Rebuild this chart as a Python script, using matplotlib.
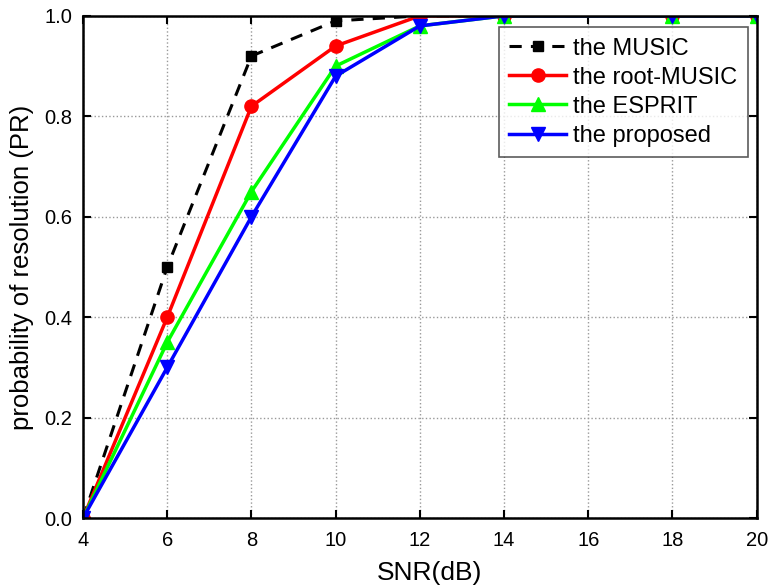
import matplotlib
matplotlib.use("Agg")
import matplotlib.pyplot as plt

plt.rcParams['font.family'] = ['Liberation Sans', 'DejaVu Sans']

snr = [4, 6, 8, 10, 12, 14, 18, 20]
music = [0.0, 0.50, 0.92, 0.99, 1.0, 1.0, 1.0, 1.0]
root_music = [0.0, 0.40, 0.82, 0.94, 1.0, 1.0, 1.0, 1.0]
esprit = [0.0, 0.35, 0.65, 0.90, 0.98, 1.0, 1.0, 1.0]
proposed = [0.0, 0.30, 0.60, 0.88, 0.98, 1.0, 1.0, 1.0]
xticks = [4, 6, 8, 10, 12, 14, 16, 18, 20]
yticks = [0.0, 0.2, 0.4, 0.6, 0.8, 1.0]

fig = plt.figure(figsize=(7.69, 5.87), dpi=100)
ax = fig.add_axes([0.108, 0.1175, 0.876, 0.8555])

ax.plot(snr, music, color='black', linestyle='--', linewidth=2.2, marker='s', markersize=7, label='the MUSIC', dashes=(4, 3))
ax.plot(snr, root_music, color='#ff0000', linewidth=2.5, marker='o', markersize=9.5, label='the root-MUSIC')
ax.plot(snr, esprit, color='#00ff00', linewidth=2.5, marker='^', markersize=9.5, label='the ESPRIT')
ax.plot(snr, proposed, color='#0000ff', linewidth=2.5, marker='v', markersize=9.5, label='the proposed')

ax.set_xlim(4, 20)
ax.set_ylim(0, 1.0)
ax.set_xticks(xticks)
ax.set_yticks(yticks)
ax.set_yticklabels([f"{v:.1f}" for v in yticks])
ax.tick_params(direction='in', length=6, width=1.5, labelsize=14.5, top=True, right=True)
ax.tick_params(axis='x', pad=9)
ax.tick_params(axis='y', pad=8)
ax.grid(True, linestyle=':', color='#999999', linewidth=1)
for s in ax.spines.values():
    s.set_linewidth(1.8)

ax.set_xlabel('SNR(dB)', fontsize=19, labelpad=8)
ax.xaxis.label.set_x(0.515)
ax.set_ylabel('probability of resolution (PR)', fontsize=18.5, labelpad=7)

leg = ax.legend(loc='upper right', bbox_to_anchor=(0.9866, 0.978), fontsize=17, frameon=True, fancybox=False,
                edgecolor='#333333', handlelength=2.4, borderpad=0.45, labelspacing=0.3, handletextpad=0.3,
                borderaxespad=0)
leg.get_frame().set_linewidth(1.2)

fig.savefig('out.png', dpi=100)
